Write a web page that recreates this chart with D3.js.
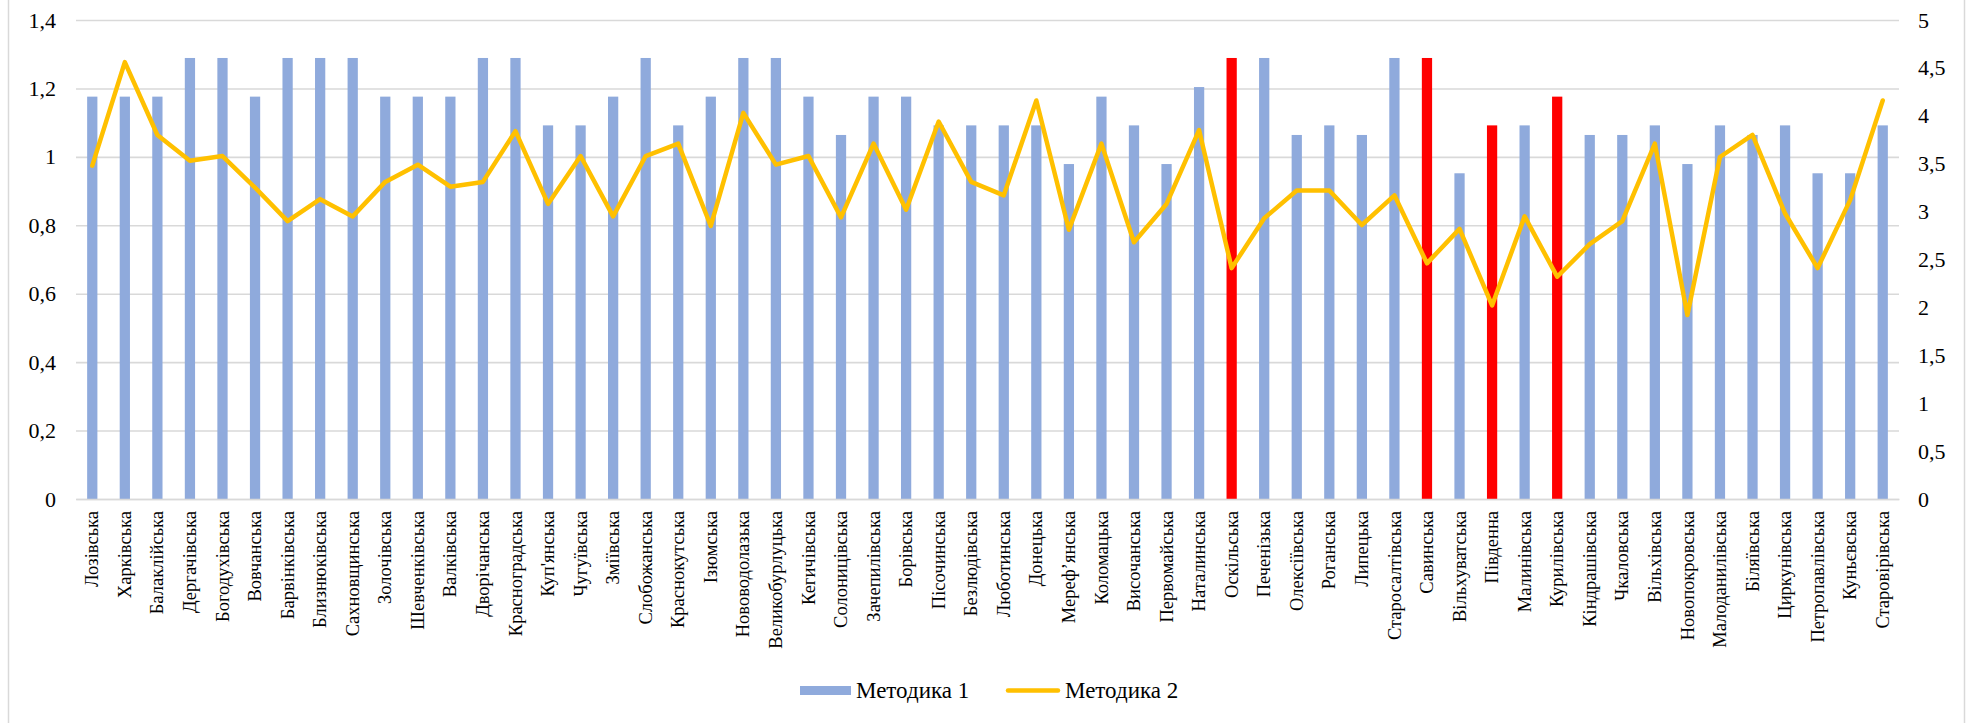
<!DOCTYPE html>
<html><head><meta charset="utf-8">
<script src="https://cdn.jsdelivr.net/npm/d3@7"></script>
<style>html,body{margin:0;padding:0;background:#fff;}svg{display:block;font-family:"Liberation Serif","Times New Roman",serif;}</style>
</head><body>
<svg id="c" width="1973" height="723"></svg>
<script>
const categories = ["Лозівська","Харківська","Балаклійська","Дергачівська","Богодухівська","Вовчанська","Барвінківська","Близнюківська","Сахновщинська","Золочівська","Шевченківська","Валківська","Дворічанська","Красноградська","Куп'янська","Чугуївська","Зміївська","Слобожанська","Краснокутська","Ізюмська","Нововодолазька","Великобурлуцька","Кегичівська","Солоницівська","Зачепилівська","Борівська","Пісочинська","Безлюдівська","Люботинська","Донецька","Мереф’янська","Коломацька","Височанська","Первомайська","Наталинська","Оскільська","Печенізька","Олексіївська","Роганська","Липецька","Старосалтівська","Савинська","Вільхуватська","Південна","Малинівська","Курилівська","Кіндрашівська","Чкаловська","Вільхівська","Новопокровська","Малоданилівська","Біляївська","Циркунівська","Петропавлівська","Куньєвська","Старовірівська"];
const method1 = [1.176,1.176,1.176,1.289,1.289,1.176,1.289,1.289,1.289,1.176,1.176,1.176,1.289,1.289,1.092,1.092,1.176,1.289,1.092,1.176,1.289,1.289,1.176,1.064,1.176,1.176,1.092,1.092,1.092,1.092,0.979,1.176,1.092,0.979,1.204,1.289,1.289,1.064,1.092,1.064,1.289,1.289,0.952,1.092,1.092,1.176,1.064,1.064,1.092,0.979,1.092,1.064,1.092,0.952,0.952,1.092];
const method2 = [3.48,4.56,3.80,3.53,3.58,3.25,2.90,3.13,2.95,3.31,3.49,3.26,3.31,3.84,3.08,3.58,2.95,3.58,3.71,2.85,4.03,3.49,3.58,2.94,3.71,3.02,3.94,3.31,3.17,4.16,2.81,3.71,2.68,3.08,3.85,2.41,2.93,3.22,3.22,2.86,3.17,2.46,2.82,2.02,2.95,2.32,2.66,2.90,3.71,1.92,3.57,3.80,2.98,2.41,3.12,4.16];
const highlighted = ["Оскільська","Савинська","Південна","Курилівська"];
const leftTicks = [0,0.2,0.4,0.6,0.8,1,1.2,1.4];
const rightTicks = [0,0.5,1,1.5,2,2.5,3,3.5,4,4.5,5];
const seriesNames = ["Методика 1","Методика 2"];

const svg = d3.select("#c");
const m = {left:76, right:1899, top:20, bottom:499};
const fmt = d => String(d).replace(".", ",");

// outer border
svg.append("rect").attr("x",8.5).attr("y",-2).attr("width",1956).attr("height",727)
  .attr("fill","none").attr("stroke","#d9d9d9").attr("stroke-width",1.5);

const x = d3.scaleBand().domain(categories).range([m.left, m.right]).paddingInner(0.685).paddingOuter(0.3425);
const yL = d3.scaleLinear().domain([0,1.4]).range([m.bottom, m.top]);
const yR = d3.scaleLinear().domain([0,5]).range([m.bottom, m.top]);

// gridlines
const gGrid = svg.append("g").attr("transform",`translate(${m.left},0)`)
  .call(d3.axisLeft(yL).tickValues(leftTicks).tickSize(-(m.right-m.left)).tickFormat(""));
gGrid.select(".domain").remove();
gGrid.selectAll("line").attr("stroke","#d9d9d9").attr("stroke-width",1.6);

// left axis labels
const gL = svg.append("g").attr("transform",`translate(${m.left},0)`)
  .call(d3.axisLeft(yL).tickValues(leftTicks).tickSize(0).tickPadding(20).tickFormat(fmt));
gL.select(".domain").remove();
gL.selectAll("text").attr("font-family","Liberation Serif").attr("font-size",22).attr("fill","#000");

// right axis labels
const gR = svg.append("g").attr("transform",`translate(${m.right},0)`)
  .call(d3.axisRight(yR).tickValues(rightTicks).tickSize(0).tickPadding(19).tickFormat(fmt));
gR.select(".domain").remove();
gR.selectAll("text").attr("font-family","Liberation Serif").attr("font-size",22).attr("fill","#000");

// bars
svg.append("g").selectAll("rect").data(categories).join("rect")
  .attr("x", d => x(d)).attr("width", x.bandwidth())
  .attr("y", (d,i) => yL(method1[i])).attr("height", (d,i) => yL(0) - yL(method1[i]))
  .attr("fill", d => highlighted.includes(d) ? "#ff0000" : "#8faadc");

// line
const line = d3.line().x((d,i) => x(categories[i]) + x.bandwidth()/2).y(d => yR(d));
svg.append("path").datum(method2).attr("d", line).attr("fill","none")
  .attr("stroke","#ffc000").attr("stroke-width",4.5).attr("stroke-linejoin","round").attr("stroke-linecap","round");

// category labels
const gX = svg.append("g").attr("transform",`translate(0,${m.bottom})`)
  .call(d3.axisBottom(x).tickSize(0).tickPadding(0));
gX.select(".domain").attr("stroke","#d9d9d9").attr("stroke-width",1.6);
gX.selectAll("text").attr("font-family","Liberation Serif").attr("font-size",18.5).attr("fill","#000")
  .attr("text-anchor","end").attr("transform","rotate(-90)").attr("x",-12).attr("y",0).attr("dy","0.33em");

// legend
const lg = svg.append("g");
lg.append("rect").attr("x",800).attr("y",686).attr("width",51).attr("height",9).attr("fill","#8faadc");
lg.append("text").attr("x",856).attr("y",698).attr("font-size",23).attr("fill","#000").text(seriesNames[0]);
lg.append("line").attr("x1",1008).attr("x2",1058).attr("y1",690.5).attr("y2",690.5)
  .attr("stroke","#ffc000").attr("stroke-width",4.5).attr("stroke-linecap","round");
lg.append("text").attr("x",1065).attr("y",698).attr("font-size",23).attr("fill","#000").text(seriesNames[1]);
</script>
</body></html>
